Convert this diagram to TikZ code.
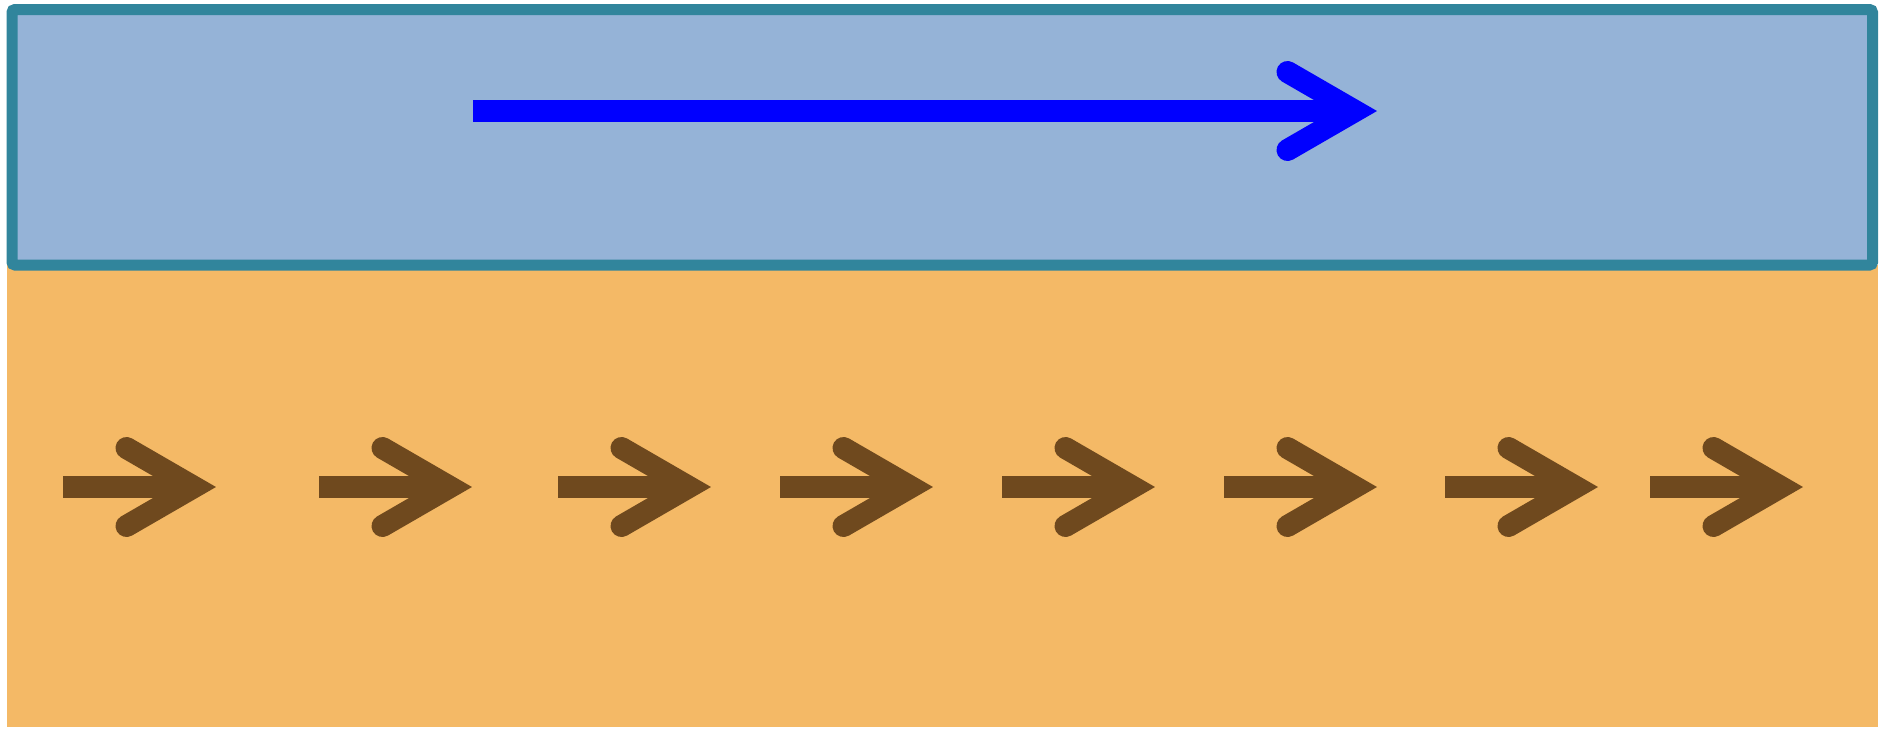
\documentclass[tikz,border=0pt]{standalone}
\usetikzlibrary{calc}
\definecolor{plateblue}{RGB}{149,179,215}
\definecolor{plateedge}{RGB}{49,133,156}
\definecolor{fluid}{RGB}{244,185,102}
\definecolor{flowbrown}{RGB}{111,73,30}
\tikzset{
  shaftline/.style={line width=22pt, line cap=butt},
  barbline/.style={line width=22pt, line cap=round, line join=miter},
}
% velocity arrow: #1 colour, #2 tail coordinate, #3 tip coordinate
\newcommand\velarrow[3]{%
  \draw[shaftline,#1] (#2) -- ($(#3)+(-22,0)$);
  \draw[barbline,#1] ($(#3)+(-89.5,-39)$) -- ($(#3)+(-22,0)$) -- ($(#3)+(-89.5,39)$);
}
\begin{document}
\begin{tikzpicture}[x=1pt,y=-1pt]
\useasboundingbox (0,0) rectangle (1883,729);
% fluid layer
\fill[fluid] (6.7,265) rectangle (1877.5,727);
% moving plate
\draw[plateedge, fill=plateblue, line width=11pt, rounded corners=3pt] (12,9.5) rectangle (1872.5,265);
% plate velocity
\coordinate (pt) at (473,111);
\coordinate (ph) at (1377,111);
\velarrow{blue}{pt}{ph}
% fluid velocity
\foreach \s [count=\i] in {63,319,558,780,1002,1224,1445,1650} {
  \coordinate (t\i) at (\s,487);
  \coordinate (h\i) at (\s+153,487);
  \velarrow{flowbrown}{t\i}{h\i}
}
\end{tikzpicture}
\end{document}
